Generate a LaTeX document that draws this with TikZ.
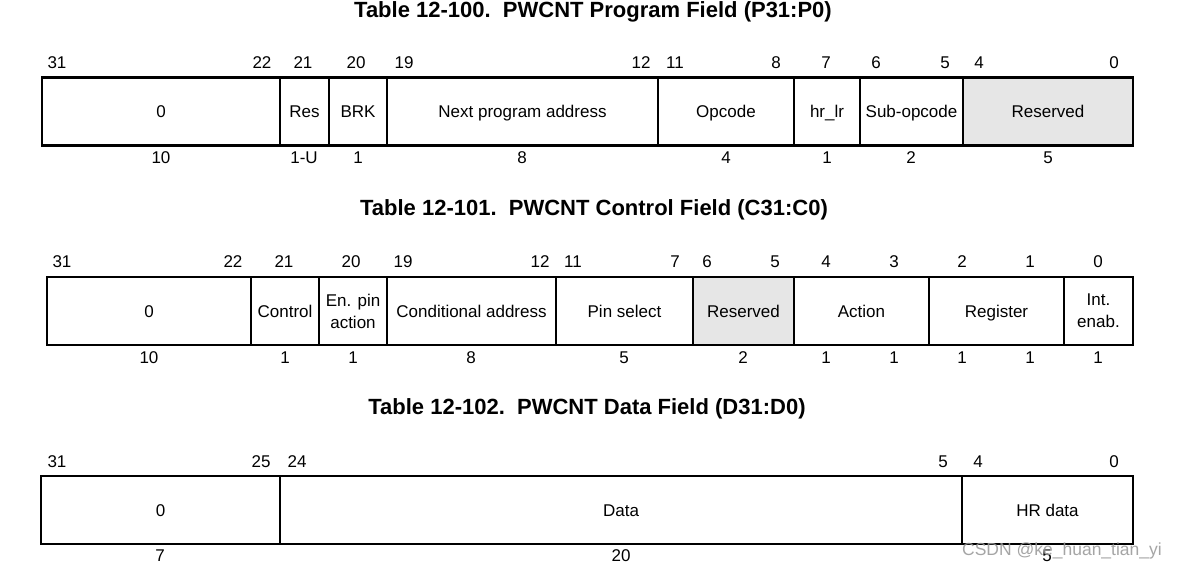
\documentclass[tikz,border=0pt]{standalone}
\usepackage{fontspec}
\setmainfont{Liberation Sans}
\definecolor{resgray}{RGB}{230,230,230}
\definecolor{wmgray}{RGB}{150,150,150}
\newcommand{\fsz}{\fontsize{17}{22}\selectfont}
\newcommand{\tsz}{\fontsize{22}{26}\selectfont\bfseries}
\begin{document}
\begin{tikzpicture}[x=1pt,y=-1pt,
  fldbase/.style={draw, line width=2.6pt, inner sep=0pt, minimum height=68pt, font=\fsz, align=center},
  fld/.style={fldbase, text height=12.2pt, text depth=0pt},
  fldtwo/.style={fldbase},
  rsv/.style={fld, fill=resgray},
  bitnum/.style={font=\fsz, inner sep=0pt, anchor=center},
  ttl/.style={font=\tsz, inner sep=0pt},
  wm/.style={font=\fontsize{17.5}{20}\selectfont, text=wmgray, opacity=0.85, inner sep=0pt}]
\useasboundingbox (0,0) rectangle (1184,571);
\fill[white] (0,0) rectangle (1184,571);

% ---------- Table 1 ----------
\node[ttl] (t1) at (593,12) {Table 12-100.\ \ PWCNT Program Field (P31:P0)};
\node[fld, minimum width=238pt] (p0)  at (161,111.5) {0};
\node[fld, minimum width=49pt]  (pres) at (304.5,111.5) {Res};
\node[fld, minimum width=58pt]  (pbrk) at (358,111.5) {BRK};
\node[fld, minimum width=271pt] (pnext) at (522.5,111.5) {Next program address};
\node[fld, minimum width=136pt] (pop) at (726,111.5) {Opcode};
\node[fld, minimum width=66pt]  (phr) at (827,111.5) {hr\_lr};
\node[fld, minimum width=103pt] (psub) at (911.5,111.5) {Sub-opcode};
\node[rsv, minimum width=170pt] (prsv) at (1048,111.5) {Reserved};
% bit numbers
\node[bitnum] (pb31) at (57,63) {31};
\node[bitnum] (pb22) at (262,63) {22};
\node[bitnum] (pb21) at (303,63) {21};
\node[bitnum] (pb20) at (356,63) {20};
\node[bitnum] (pb19) at (404,63) {19};
\node[bitnum] (pb12) at (641,63) {12};
\node[bitnum] (pb11) at (675,63) {11};
\node[bitnum] (pb8)  at (776,63) {8};
\node[bitnum] (pb7)  at (826,63) {7};
\node[bitnum] (pb6)  at (876,63) {6};
\node[bitnum] (pb5)  at (945,63) {5};
\node[bitnum] (pb4)  at (979,63) {4};
\node[bitnum] (pb0)  at (1114,63) {0};
% widths
\node[bitnum] (pw1) at (161,158) {10};
\node[bitnum] (pw2) at (304,158) {1-U};
\node[bitnum] (pw3) at (358,158) {1};
\node[bitnum] (pw4) at (522,158) {8};
\node[bitnum] (pw5) at (726,158) {4};
\node[bitnum] (pw6) at (827,158) {1};
\node[bitnum] (pw7) at (911,158) {2};
\node[bitnum] (pw8) at (1048,158) {5};

% ---------- Table 2 ----------
\node[ttl] (t2) at (594,210) {Table 12-101.\ \ PWCNT Control Field (C31:C0)};
\node[fld, minimum width=204pt] (c0)   at (149,311) {0};
\node[fld, minimum width=68pt]  (cctl) at (285,311) {Control};
\node[fldtwo, minimum width=68pt]  (cen)  at (353,311) {En. pin\\action};
\node[fld, minimum width=169pt] (ccond) at (471.5,311) {Conditional address};
\node[fld, minimum width=137pt] (cpin) at (624.5,311) {Pin select};
\node[rsv, minimum width=101pt] (crsv) at (743.5,311) {Reserved};
\node[fld, minimum width=135pt] (cact) at (861.5,311) {Action};
\node[fld, minimum width=135pt] (creg) at (996.5,311) {Register};
\node[fldtwo, minimum width=69pt]  (cint) at (1098.5,311) {Int.\\enab.};
% bit numbers
\node[bitnum] (cb31) at (62,262) {31};
\node[bitnum] (cb22) at (233,262) {22};
\node[bitnum] (cb21) at (284,262) {21};
\node[bitnum] (cb20) at (351,262) {20};
\node[bitnum] (cb19) at (403,262) {19};
\node[bitnum] (cb12) at (540,262) {12};
\node[bitnum] (cb11) at (573,262) {11};
\node[bitnum] (cb7)  at (675,262) {7};
\node[bitnum] (cb6)  at (707,262) {6};
\node[bitnum] (cb5)  at (775,262) {5};
\node[bitnum] (cb4)  at (826,262) {4};
\node[bitnum] (cb3)  at (894,262) {3};
\node[bitnum] (cb2)  at (962,262) {2};
\node[bitnum] (cb1)  at (1030,262) {1};
\node[bitnum] (cb0)  at (1098,262) {0};
% widths
\node[bitnum] (cw1)  at (149,358) {10};
\node[bitnum] (cw2)  at (285,358) {1};
\node[bitnum] (cw3)  at (353,358) {1};
\node[bitnum] (cw4)  at (471,358) {8};
\node[bitnum] (cw5)  at (624,358) {5};
\node[bitnum] (cw6)  at (743,358) {2};
\node[bitnum] (cw7)  at (826,358) {1};
\node[bitnum] (cw8)  at (894,358) {1};
\node[bitnum] (cw9)  at (962,358) {1};
\node[bitnum] (cw10) at (1030,358) {1};
\node[bitnum] (cw11) at (1098,358) {1};

% ---------- Table 3 ----------
\node[ttl] (t3) at (587,409) {Table 12-102.\ \ PWCNT Data Field (D31:D0)};
\node[fld, minimum width=239pt] (d0)   at (160.5,510) {0};
\node[fld, minimum width=682pt] (ddat) at (621,510) {Data};
\node[fld, minimum width=171pt] (dhr)  at (1047.5,510) {HR data};
\node[bitnum] (db31) at (57,462) {31};
\node[bitnum] (db25) at (261,462) {25};
\node[bitnum] (db24) at (297,462) {24};
\node[bitnum] (db5)  at (943,462) {5};
\node[bitnum] (db4)  at (978,462) {4};
\node[bitnum] (db0)  at (1114,462) {0};
\node[bitnum] (dw1) at (160,556) {7};
\node[bitnum] (dw2) at (621,556) {20};
\node[bitnum] (dw3) at (1047,556) {5};

% watermark
\node[wm] (wmark) at (1062,551) {CSDN @ke\_huan\_tian\_yi};
\end{tikzpicture}
\end{document}
